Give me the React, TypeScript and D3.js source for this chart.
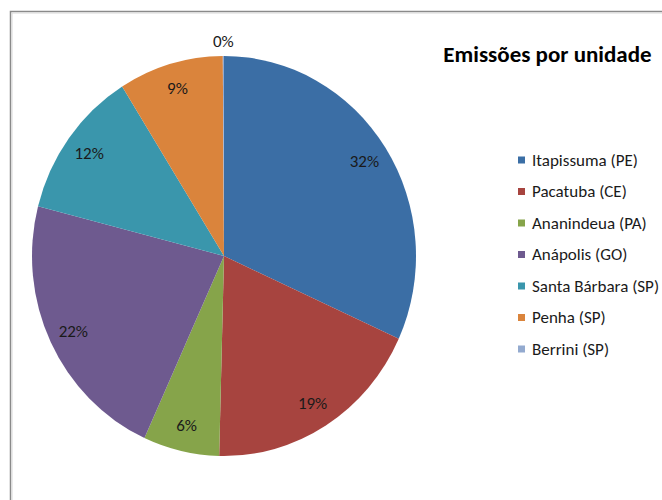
import React from "react";
import * as d3 from "d3";

const width = 662;
const height = 500;

const categories = [
  "Itapissuma (PE)",
  "Pacatuba (CE)",
  "Ananindeua (PA)",
  "Anápolis (GO)",
  "Santa Bárbara  (SP)",
  "Penha (SP)",
  "Berrini (SP)",
];
const values = [31.8, 18.6, 6.4, 22.2, 12.1, 8.8, 0.1];
const colors = ["#3b6ea5", "#a7443f", "#86a44a", "#6e5a8f", "#3a96ac", "#da843c", "#93aacf"];

const cx = 224;
const cy = 256;
const radius = 192;
const squash = 200 / 192;
const font = "Carlito, 'Open Sans', 'Noto Sans', sans-serif";

const App = () => {
  const pie = d3
    .pie<number>()
    .sort(null)
    .value((d) => d);
  const arcs = pie(values);
  const arc = d3.arc<d3.PieArcDatum<number>>().innerRadius(0).outerRadius(radius);
  const labelArc = d3.arc<d3.PieArcDatum<number>>().innerRadius(167).outerRadius(167);
  const outerArc = d3.arc<d3.PieArcDatum<number>>().innerRadius(206).outerRadius(206);

  const legendY = d3
    .scalePoint<string>()
    .domain(categories)
    .range([160, 349]);

  return (
    <svg width={width} height={height} style={{ position: "absolute", left: 0, top: 0 }}>
      <rect x={0} y={0} width={width} height={height} fill="#fff" />
      <path d="M10.5,500 V11.5 H662" fill="none" stroke="#8a8a8a" strokeWidth={1.5} />
      <path d="M12,500 V13 H662" fill="none" stroke="#d8d8d8" strokeWidth={1} />

      <g transform={`translate(${cx},${cy}) scale(1,${squash})`}>
        {arcs.map((a, i) => (
          <path key={i} d={arc(a) || ""} fill={colors[i]} />
        ))}
      </g>
      {arcs.map((a, i) => {
        const [x, y] = a.data < 1 ? outerArc.centroid(a) : labelArc.centroid(a);
        return (
          <text
            key={i}
            x={cx + x}
            y={cy + y * squash}
            textAnchor="middle"
            dominantBaseline="central"
            fontFamily={font}
            fontSize={17}
            fill="#1a1a1a"
          >
            {`${Math.round(a.data)}%`}
          </text>
        );
      })}

      <text x={547.5} y={62} textAnchor="middle" fontFamily={font} fontSize={23} fontWeight="bold" fill="#000">
        Emissões por unidade
      </text>

      {categories.map((c, i) => (
        <g key={c} transform={`translate(518,${legendY(c)})`}>
          <rect x={0} y={-3.5} width={7} height={7} fill={colors[i]} />
          <text x={14} y={0} dominantBaseline="central" fontFamily={font} fontSize={17} fill="#1a1a1a">
            {c}
          </text>
        </g>
      ))}
    </svg>
  );
};

export default App;
